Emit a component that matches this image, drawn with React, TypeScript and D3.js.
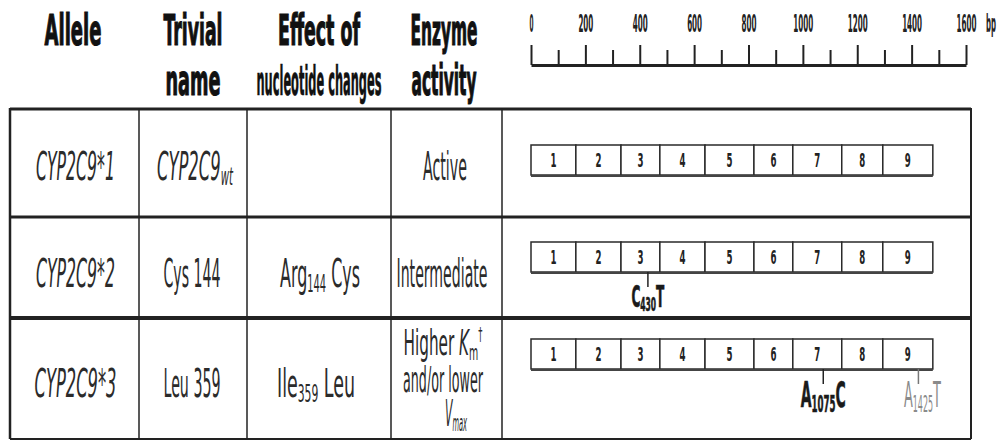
import * as d3 from "d3";
import { useEffect, useRef } from "react";

// ---- data ----
const headerLine1 = ["Allele", "Trivial", "Effect of", "Enzyme"];
const headerLine2 = ["", "name", "nucleotide changes", "activity"];
const alleles = ["CYP2C9*1", "CYP2C9*2", "CYP2C9*3"];
const trivialNames = ["CYP2C9_{wt}", "Cys 144", "Leu 359"];
const nucleotideEffects = ["", "Arg_{144} Cys", "Ile_{359} Leu"];
const enzymeActivity = [["Active"], ["Intermediate"], ["Higher ~K~_{m}^{†}", "and/or lower", "~V~_{max}"]];
// exon boundaries in bp (start of exon 1 .. end of exon 9)
const exonBounds = [0, 165, 331, 474, 640, 820, 963, 1143, 1294, 1478];
const exonNames = ["1", "2", "3", "4", "5", "6", "7", "8", "9"];
const majorTicks = [0, 200, 400, 600, 800, 1000, 1200, 1400, 1600];
const minorTicks = [100, 300, 500, 700, 900, 1100, 1300, 1500];
const mutations = [
  { row: 1, pos: 430, label: "C_{430}T", strong: true },
  { row: 2, pos: 1075, label: "A_{1075}C", strong: true },
  { row: 2, pos: 1425, label: "A_{1425}T", strong: false },
];

// ---- layout ----
const W = 1002;
const H = 441;
const colX = [10, 139, 247, 391, 502, 971];
const rowY = [108, 217, 318, 439];
const boxTop = [145, 242, 339];
const boxH = 30;
const textBase = [180, 287, 397];
const FONT = "'Liberation Sans Narrow', 'DejaVu Sans Condensed', 'Liberation Sans', Arial, sans-serif";

const x = d3.scaleLinear().domain([0, 1600]).range([531, 966]);

function Rich({ x, y, text, size, width, anchor = "middle", weight = 400, italic = false, fill = "#2b2b2b", heavy = 0 }: any) {
  const parts = text.split(/(_\{[^}]*\}|\^\{[^}]*\}|~[^~]*~)/).filter((s: string) => s.length);
  let shift = 0;
  const spans = parts.map((p: string, i: number) => {
    let content = p;
    let fs = size;
    let it = italic;
    let target = 0;
    if (p.startsWith("_{")) {
      content = p.slice(2, -1);
      target = size * 0.14;
      fs = size * 0.62;
    } else if (p.startsWith("^{")) {
      content = p.slice(2, -1);
      target = -size * 0.4;
      fs = size * 0.55;
    } else if (p.startsWith("~")) {
      content = p.slice(1, -1);
      it = true;
    }
    const dy = target - shift;
    shift = target;
    return (
      <tspan key={i} dy={dy} fontSize={fs} fontStyle={it ? "italic" : "normal"}>
        {content}
      </tspan>
    );
  });
  return (
    <text
      x={x}
      y={y}
      textAnchor={anchor}
      fontFamily={FONT}
      fontWeight={weight}
      fontSize={size}
      fill={fill}
      stroke={heavy ? fill : "none"}
      strokeWidth={heavy}
      textLength={width}
      lengthAdjust="spacingAndGlyphs"
    >
      {spans}
    </text>
  );
}

function ScaleBar() {
  const ref = useRef<SVGGElement>(null);
  useEffect(() => {
    const g = d3.select(ref.current);
    g.selectAll("*").remove();
    const major = d3
      .axisTop(x)
      .tickValues(majorTicks)
      .tickSize(20)
      .tickSizeOuter(0)
      .tickPadding(13)
      .tickFormat((d: any) => String(d));
    const gm = g.append("g").call(major as any);
    gm.attr("font-size", null).attr("font-family", null);
    gm.select(".domain").attr("stroke", "#222").attr("stroke-width", 3);
    gm.selectAll(".tick line").attr("stroke", "#222").attr("stroke-width", 2);
    gm.selectAll(".tick text")
      .attr("fill", "#222")
      .style("font-family", FONT)
      .style("font-weight", "700")
      .style("font-size", "25px")
      .attr("textLength", (d: any) => (d === 0 ? 4 : String(d).length * 5))
      .attr("lengthAdjust", "spacingAndGlyphs");
    const minor = d3.axisTop(x).tickValues(minorTicks).tickSize(15).tickSizeOuter(0).tickFormat(() => "");
    const gn = g.append("g").call(minor as any);
    gn.select(".domain").remove();
    gn.selectAll(".tick line").attr("stroke", "#222").attr("stroke-width", 2);
  }, []);
  return (
    <g>
      <g ref={ref} transform="translate(0,65)" />
      <text x={986} y={32} fontFamily={FONT} fontWeight={700} fontSize={25} fill="#222" textLength={10} lengthAdjust="spacingAndGlyphs">
        bp
      </text>
    </g>
  );
}

function Gene({ row }: { row: number }) {
  const top = boxTop[row];
  return (
    <g>
      {exonNames.map((n, i) => {
        const x0 = x(exonBounds[i]);
        const x1 = x(exonBounds[i + 1]);
        return (
          <g key={n}>
            <rect x={x0} y={top} width={x1 - x0} height={boxH} fill="#fff" stroke="#2a2a2a" strokeWidth={1.5} />
            <text
              x={(x0 + x1) / 2}
              y={top + 22}
              textAnchor="middle"
              fontFamily={FONT}
              fontWeight={700}
              fontSize={19}
              fill="#222"
              textLength={6}
              lengthAdjust="spacingAndGlyphs"
            >
              {n}
            </text>
          </g>
        );
      })}
      <line x1={x(exonBounds[0])} x2={x(exonBounds[exonBounds.length - 1])} y1={top + boxH + 1} y2={top + boxH + 1} stroke="#444" strokeWidth={2} />
      {mutations
        .filter((m) => m.row === row)
        .map((m) => (
          <g key={m.label}>
            <line x1={x(m.pos)} x2={x(m.pos)} y1={top + boxH} y2={top + boxH + 15} stroke={m.strong ? "#222" : "#777"} strokeWidth={1.5} />
            <Rich
              x={x(m.pos) + (m.strong ? 0 : 4)}
              y={row === 1 ? 307 : 407}
              text={m.label}
              size={row === 1 ? 30 : 36}
              width={row === 1 ? 33 : m.strong ? 45 : 37}
              weight={m.strong ? 700 : 400}
              fill={m.strong ? "#1a1a1a" : "#8a8a8a"}
              heavy={m.strong ? 0.6 : 0}
            />
          </g>
        ))}
    </g>
  );
}

export default function App() {
  const cx = (i: number) => (colX[i] + colX[i + 1]) / 2;
  return (
    <svg width={W} height={H} style={{ position: "absolute", left: 0, top: 0, background: "#fff" }}>
      <rect width={W} height={H} fill="#fff" />
      {/* headers */}
      {[
        [73, 57],
        [193, 59],
        [319, 82],
        [444, 67],
      ].map(([hx, w], i) => (
        <Rich key={"h1" + i} x={hx} y={45} text={headerLine1[i]} size={42} width={w} weight={700} fill="#111" heavy={1.2} />
      ))}
      {[
        [0, 0],
        [193, 55],
        [319, 125],
        [444, 65],
      ].map(([hx, w], i) =>
        headerLine2[i] ? (
          <Rich key={"h2" + i} x={hx} y={95} text={headerLine2[i]} size={i === 2 ? 40 : 42} width={w} weight={700} fill="#111" heavy={i === 2 ? 0.6 : 1.2} />
        ) : null
      )}
      <ScaleBar />

      {/* table grid */}
      <g stroke="#222" fill="none">
        <line x1={colX[0]} x2={colX[5]} y1={rowY[0] + 1} y2={rowY[0] + 1} strokeWidth={3} />
        <line x1={colX[0]} x2={colX[5]} y1={rowY[1]} y2={rowY[1]} strokeWidth={3} />
        <line x1={colX[0]} x2={colX[5]} y1={rowY[2]} y2={rowY[2]} strokeWidth={4} />
        <line x1={colX[0]} x2={colX[5]} y1={rowY[3]} y2={rowY[3]} strokeWidth={2} />
        <line x1={colX[0]} x2={colX[0]} y1={rowY[0]} y2={rowY[3]} strokeWidth={2.5} />
        <line x1={colX[5]} x2={colX[5]} y1={rowY[0]} y2={rowY[3]} strokeWidth={2} />
        {colX.slice(1, 5).map((c) => (
          <line key={c} x1={c} x2={c} y1={rowY[0]} y2={rowY[3]} strokeWidth={1.5} />
        ))}
      </g>

      {/* body */}
      {alleles.map((a, r) => (
        <g key={a}>
          <Rich x={cx(0) + 1} y={textBase[r]} text={a} size={39} width={r === 2 ? 82 : 79} italic />
          <Rich x={r === 0 ? 195 : 192} y={textBase[r]} text={trivialNames[r]} size={39} width={r === 0 ? 76 : 57} italic={r === 0} />
          {nucleotideEffects[r] ? (
            <Rich x={r === 1 ? 320 : 316} y={textBase[r]} text={nucleotideEffects[r]} size={39} width={r === 1 ? 80 : 78} />
          ) : null}
          {enzymeActivity[r].length === 1 ? (
            <Rich x={r === 0 ? 445 : 442} y={textBase[r]} text={enzymeActivity[r][0]} size={39} width={r === 0 ? 44 : 91} />
          ) : (
            enzymeActivity[r].map((t, k) => (
              <Rich
                key={t}
                x={k === 2 ? 456 : 443}
                y={[355, 392, 426][k]}
                text={t}
                size={k === 2 ? 38 : 35}
                width={[79, 80, 22][k]}
                italic={k === 2}
              />
            ))
          )}
          <Gene row={r} />
        </g>
      ))}
    </svg>
  );
}
